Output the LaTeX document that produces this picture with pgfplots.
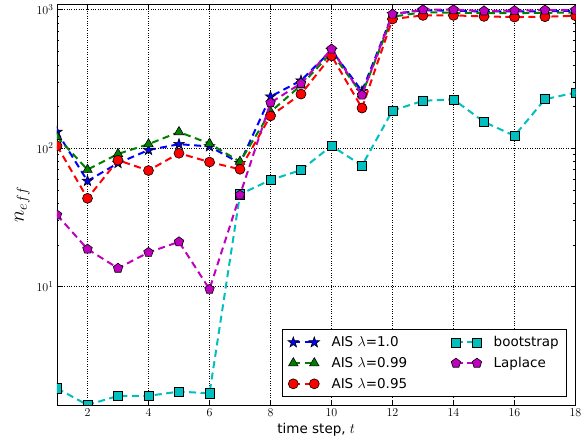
\documentclass[border=0pt]{standalone}
\usepackage{fontspec}
\setsansfont{DejaVu Sans}
\usepackage{pgfplots}
\pgfplotsset{compat=1.18}
\usetikzlibrary{plotmarks}

\definecolor{mplgreen}{rgb}{0,0.5,0}
\definecolor{mplcyan}{rgb}{0,0.75,0.75}
\definecolor{mplmag}{rgb}{0.75,0,0.75}

\pgfdeclareplotmark{fstar}{%
  \pgfpathmoveto{\pgfpointpolar{90}{\pgfplotmarksize}}%
  \pgfpathlineto{\pgfpointpolar{126}{0.4\pgfplotmarksize}}%
  \pgfpathlineto{\pgfpointpolar{162}{\pgfplotmarksize}}%
  \pgfpathlineto{\pgfpointpolar{198}{0.4\pgfplotmarksize}}%
  \pgfpathlineto{\pgfpointpolar{234}{\pgfplotmarksize}}%
  \pgfpathlineto{\pgfpointpolar{270}{0.4\pgfplotmarksize}}%
  \pgfpathlineto{\pgfpointpolar{306}{\pgfplotmarksize}}%
  \pgfpathlineto{\pgfpointpolar{342}{0.4\pgfplotmarksize}}%
  \pgfpathlineto{\pgfpointpolar{18}{\pgfplotmarksize}}%
  \pgfpathlineto{\pgfpointpolar{54}{0.4\pgfplotmarksize}}%
  \pgfpathclose
  \pgfusepathqfillstroke
}

\pgfplotsset{
  ser/.style={line width=2pt, dash pattern=on 7pt off 4.5pt},
  ais1/.style={ser, blue, mark=fstar, mark size=5.5pt, mark options={solid, draw=black, fill=blue, line width=0.6pt}},
  ais2/.style={ser, mplgreen, mark=triangle*, mark size=5.5pt, mark options={solid, draw=black, fill=mplgreen, line width=0.6pt}},
  ais3/.style={ser, red, mark=*, mark size=5pt, mark options={solid, draw=black, fill=red, line width=0.6pt}},
  boot/.style={ser, mplcyan, mark=square*, mark size=4.6pt, mark options={solid, draw=black, fill=mplcyan, line width=0.6pt}},
  lap/.style={ser, mplmag, mark=pentagon*, mark size=5pt, mark options={solid, draw=black, fill=mplmag, line width=0.6pt}},
}

\begin{document}
\begin{tikzpicture}
\begin{axis}[
  scale only axis, width=518.5pt, height=401pt,
  ymode=log, xmin=1, xmax=18, ymin=1.4, ymax=1100,
  xtick={2,4,...,18},
  ytick={10,100,1000},
  grid=major, grid style={black, dotted, line width=0.6pt},
  tick align=inside,
  major tick length=5pt, minor tick length=2.5pt,
  every tick/.style={black, line width=0.6pt},
  axis line style={line width=0.9pt},
  clip marker paths=true,
  tick label style={font=\fontsize{12.5}{14}\selectfont},
  xlabel={\sffamily time step, $t$},
  ylabel={$n_{eff}$},
  ylabel style={font=\fontsize{20}{23}\selectfont},
  xlabel style={font=\fontsize{13.5}{15}\selectfont},
  legend columns=2,
  legend style={at={(0.984,0.02)}, anchor=south east, draw=black, line width=0.8pt, fill=white,
    font=\sffamily\fontsize{13.5}{16}\selectfont, row sep=5pt, inner xsep=6pt, inner ysep=5pt,
    /tikz/every odd column/.style={column sep=10pt},
    /tikz/every even column/.style={column sep=42pt}},
  legend cell align=left,
  legend image code/.code={\draw[#1] plot coordinates {(0pt,0pt) (21pt,0pt)};},
]
\addplot[ais1, forget plot] coordinates {(1,131) (2,58) (3,78) (4,97) (5,107) (6,103) (7,78) (8,236) (9,308) (10,510) (11,258) (12,930) (13,990) (14,985) (15,970) (16,975) (17,975) (18,985)};
\addplot[ais2, forget plot] coordinates {(1,121) (2,70) (3,91) (4,107) (5,131) (6,108) (7,80) (8,183) (9,285) (10,490) (11,245) (12,890) (13,960) (14,950) (15,945) (16,945) (17,950) (18,955)};
\addplot[ais3, forget plot] coordinates {(1,104) (2,43.5) (3,82) (4,69) (5,92) (6,79.5) (7,70.5) (8,171) (9,246) (10,465) (11,195) (12,857) (13,910) (14,910) (15,895) (16,885) (17,890) (18,905)};
\addplot[boot, forget plot] coordinates {(1,1.85) (2,1.40) (3,1.63) (4,1.63) (5,1.75) (6,1.70) (7,46.5) (8,59) (9,69.6) (10,104) (11,75) (12,187) (13,220) (14,225) (15,155) (16,123) (17,226) (18,252)};
\addplot[lap, forget plot] coordinates {(1,33) (2,18.7) (3,13.6) (4,17.7) (5,21.1) (6,9.6) (7,46) (8,213) (9,294) (10,520) (11,242) (12,930) (13,1000) (14,1000) (15,980) (16,985) (17,995) (18,995)};
\addlegendimage{ais1}\addlegendentry{AIS $\lambda$=1.0}
\addlegendimage{boot}\addlegendentry{bootstrap}
\addlegendimage{ais2}\addlegendentry{AIS $\lambda$=0.99}
\addlegendimage{lap}\addlegendentry{Laplace}
\addlegendimage{ais3}\addlegendentry{AIS $\lambda$=0.95}
\end{axis}
\pgfresetboundingbox
\path ([shift={(-57pt,-34pt)}]current axis.south west) rectangle ([shift={(8.5pt,4pt)}]current axis.north east);
\end{tikzpicture}
\end{document}
